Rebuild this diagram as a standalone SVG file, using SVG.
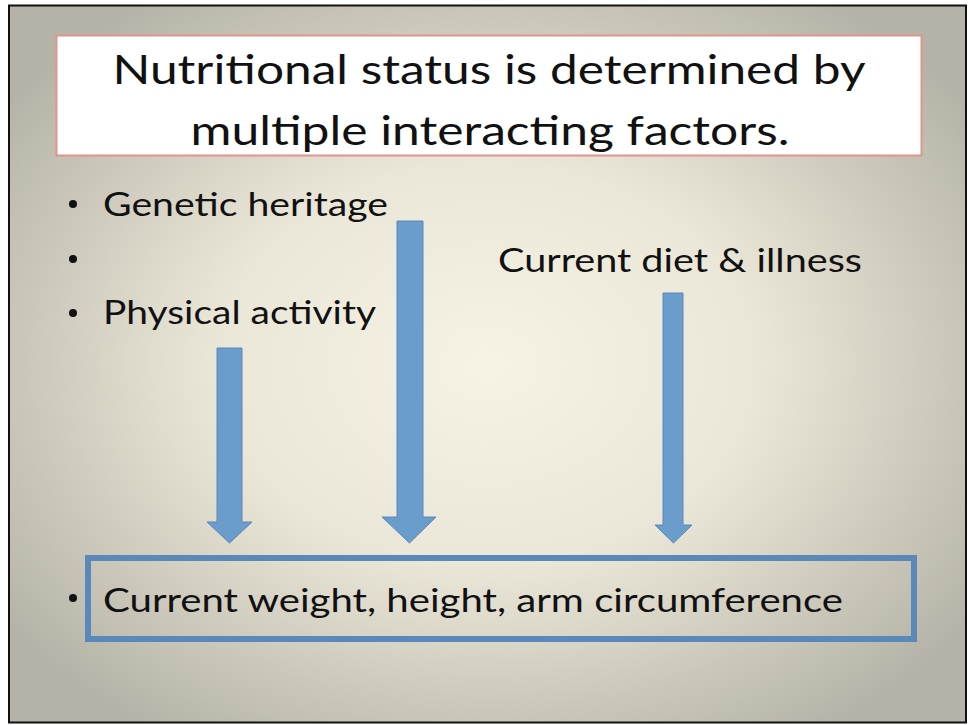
<svg xmlns="http://www.w3.org/2000/svg" width="969" height="725" viewBox="0 0 969 725">
  <defs>
    <radialGradient id="bg" cx="0.5" cy="0.5" r="0.62" fx="0.5" fy="0.5">
      <stop offset="0" stop-color="#f7f3e4"/>
      <stop offset="0.45" stop-color="#ebe7d8"/>
      <stop offset="1" stop-color="#b5b2a7"/>
    </radialGradient>
    <style>
      .t { font-family: Lato, "Liberation Sans", Arial, sans-serif; fill: #111; }
      .title { font-size: 41px; text-anchor: middle; }
      .b { font-size: 33px; }
      .arrow { fill: #6a9dcc; stroke: #5a88b8; stroke-width: 1; }
    </style>
  </defs>
  <rect x="0" y="0" width="969" height="725" fill="#ffffff"/>
  <rect x="9" y="5.5" width="957" height="717" fill="url(#bg)" stroke="#111" stroke-width="2"/>

  <g id="title">
    <rect x="56.5" y="35.5" width="865" height="120" fill="#ffffff" stroke="#e0948c" stroke-width="2"/>
    <text class="t title" x="489" y="84" textLength="753" lengthAdjust="spacingAndGlyphs">Nutritional status is determined by</text>
    <text class="t title" x="490" y="145" textLength="599" lengthAdjust="spacingAndGlyphs">multiple interacting factors.</text>
  </g>

  <g id="genetic">
    <circle cx="73" cy="204" r="4" fill="#111"/>
    <text class="t b" x="103" y="216" textLength="285" lengthAdjust="spacingAndGlyphs">Genetic heritage</text>
  </g>
  <g id="empty-bullet">
    <circle cx="73" cy="259" r="4" fill="#111"/>
  </g>
  <g id="physical">
    <circle cx="73" cy="313" r="4" fill="#111"/>
    <text class="t b" x="103" y="324" textLength="273" lengthAdjust="spacingAndGlyphs">Physical activity</text>
  </g>
  <g id="diet">
    <text class="t b" x="498" y="272" textLength="364" lengthAdjust="spacingAndGlyphs">Current diet &amp; illness</text>
  </g>

  <g id="connectors">
    <polygon class="arrow" points="217,348 242,348 242,522 252,522 229.5,543 207,522 217,522"/>
    <polygon class="arrow" points="397,221 423,221 423,517 436,517 409.5,543 382,517 397,517"/>
    <polygon class="arrow" points="663,293 683,293 683,525 692,525 673.5,543 655,525 663,525"/>
  </g>

  <g id="outcome">
    <circle cx="73" cy="598" r="4" fill="#111"/>
    <rect x="88" y="558" width="826" height="81" fill="none" stroke="#5a88b8" stroke-width="6"/>
    <text class="t b" x="103" y="612" textLength="740" lengthAdjust="spacingAndGlyphs">Current weight, height, arm circumference</text>
  </g>
</svg>
